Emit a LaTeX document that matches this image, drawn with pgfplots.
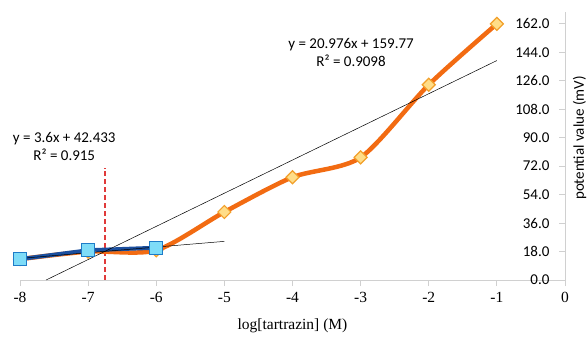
\documentclass[border=0pt]{standalone}
\usepackage{fontspec}
\setmainfont{Liberation Serif}
\newfontfamily\carlito{Carlito}
\usepackage{pgfplots}
\pgfplotsset{compat=1.18}
\definecolor{axgray}{HTML}{D0D0D0}
\definecolor{orangeL}{HTML}{F26B12}
\definecolor{diamF}{HTML}{FFDD88}
\definecolor{diamE}{HTML}{F2A02A}
\definecolor{blueL}{HTML}{1B4F9F}
\definecolor{sqF}{HTML}{7EDCF8}
\definecolor{sqE}{HTML}{1E7CC8}
\definecolor{redD}{HTML}{E03A3A}
\begin{document}
\begin{tikzpicture}
\useasboundingbox (-20pt,-60pt) rectangle (567pt,280pt);
\begin{axis}[
 at={(0pt,0pt)}, anchor=south west, scale only axis,
 width=545pt, height=268pt,
 xmin=-8, xmax=0, ymin=0, ymax=169.5,
 axis x line=bottom, axis y line=right,
 axis line style={draw=axgray, line width=0.8pt, -},
 xtick={-8,-7,-6,-5,-4,-3,-2,-1,0},
 xticklabels={-8,-7,-6,-5,-4,-3,-2,-1,0},
 ytick={0,18,36,54,72,90,108,126,144,162},
 yticklabels={0.0,18.0,36.0,54.0,72.0,90.0,108.0,126.0,144.0,162.0},
 tick style={draw=axgray, line width=0.8pt},
 xtick align=outside, ytick align=inside,
 major tick length=6pt,
 xticklabel style={font=\fontsize{15.5}{18}\selectfont, yshift=-3pt},
 yticklabel style={font=\carlito\fontsize{15}{18}\selectfont, anchor=east, xshift=-12pt},
 xlabel={log[tartrazin] (M)},
 xlabel style={font=\fontsize{15.5}{18}\selectfont, yshift=-9pt},
 clip=false,
]
\draw[redD, line width=1.5pt, dash pattern=on 5pt off 3pt] (axis cs:-6.753,0) -- (axis cs:-6.753,71);
\addplot[orangeL, line width=4.5pt, smooth, tension=0.45, mark=square*, mark size=4.6pt,
  mark options={rotate=45, fill=diamF, draw=diamE, line width=1.2pt, solid}]
  coordinates {(-8,13.2) (-7,18.0) (-6,18.8) (-5,43) (-4,65) (-3,77.5) (-2,123.5) (-1,162)};
\addplot[blueL, line width=4pt, mark=square*, mark size=6.5pt,
  mark options={fill=sqF, draw=sqE, line width=1.2pt}]
  coordinates {(-8,13.2) (-7,18.8) (-6,20.4)};
\addplot[black, line width=0.5pt] coordinates {(-7.617,0) (-1,138.79)};
\addplot[black, line width=0.5pt] coordinates {(-8,13.633) (-5,24.433)};
\node[align=center, font=\carlito\fontsize{15}{18}\selectfont] at (axis cs:-7.35,84.6) {y = 3.6x + 42.433\\R² = 0.915};
\node[align=center, font=\carlito\fontsize{15}{18}\selectfont] at (axis cs:-3.14,143.7) {y = 20.976x + 159.77\\R² = 0.9098};
\end{axis}
\node[rotate=90, anchor=south, inner sep=0.5pt, font=\carlito\fontsize{15}{18}\selectfont] at (567pt,142pt) {potential value (mV)};
\end{tikzpicture}
\end{document}
